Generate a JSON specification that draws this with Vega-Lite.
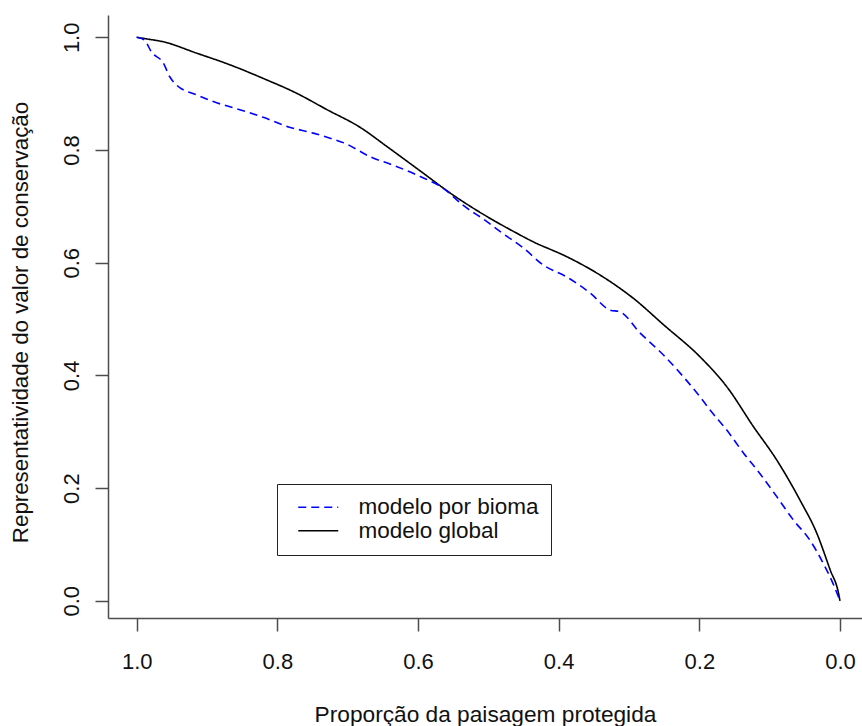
{
  "$schema": "https://vega.github.io/schema/vega-lite/v6.json",
  "autosize": {"type": "none"},
  "padding": {"left": 108, "top": 15, "right": 0, "bottom": 108},
  "width": 754,
  "height": 603,
  "background": "white",
  "config": {
    "font": "Liberation Sans",
    "view": {"stroke": null},
    "axis": {"grid": false, "domainColor": "#4d4d4d", "domainWidth": 1.5, "tickColor": "#4d4d4d", "tickWidth": 1.5, "labelColor": "#111111", "titleColor": "#111111", "titleFontWeight": "normal"}
  },
  "data": {
    "values": [
      {"x": 1.0, "y": 1.0, "modelo": "modelo global"},
      {"x": 0.985, "y": 0.997, "modelo": "modelo global"},
      {"x": 0.962, "y": 0.992, "modelo": "modelo global"},
      {"x": 0.915, "y": 0.972, "modelo": "modelo global"},
      {"x": 0.867, "y": 0.951, "modelo": "modelo global"},
      {"x": 0.820, "y": 0.927, "modelo": "modelo global"},
      {"x": 0.773, "y": 0.901, "modelo": "modelo global"},
      {"x": 0.730, "y": 0.872, "modelo": "modelo global"},
      {"x": 0.682, "y": 0.840, "modelo": "modelo global"},
      {"x": 0.644, "y": 0.806, "modelo": "modelo global"},
      {"x": 0.597, "y": 0.763, "modelo": "modelo global"},
      {"x": 0.550, "y": 0.720, "modelo": "modelo global"},
      {"x": 0.502, "y": 0.682, "modelo": "modelo global"},
      {"x": 0.465, "y": 0.656, "modelo": "modelo global"},
      {"x": 0.436, "y": 0.637, "modelo": "modelo global"},
      {"x": 0.389, "y": 0.611, "modelo": "modelo global"},
      {"x": 0.341, "y": 0.578, "modelo": "modelo global"},
      {"x": 0.294, "y": 0.537, "modelo": "modelo global"},
      {"x": 0.250, "y": 0.489, "modelo": "modelo global"},
      {"x": 0.199, "y": 0.433, "modelo": "modelo global"},
      {"x": 0.161, "y": 0.380, "modelo": "modelo global"},
      {"x": 0.123, "y": 0.309, "modelo": "modelo global"},
      {"x": 0.090, "y": 0.250, "modelo": "modelo global"},
      {"x": 0.057, "y": 0.179, "modelo": "modelo global"},
      {"x": 0.033, "y": 0.120, "modelo": "modelo global"},
      {"x": 0.014, "y": 0.055, "modelo": "modelo global"},
      {"x": 0.002, "y": 0.013, "modelo": "modelo global"},
      {"x": 0.0, "y": 0.0, "modelo": "modelo global"},
      {"x": 1.0, "y": 1.0, "modelo": "modelo por bioma"},
      {"x": 0.989, "y": 0.995, "modelo": "modelo por bioma"},
      {"x": 0.979, "y": 0.974, "modelo": "modelo por bioma"},
      {"x": 0.962, "y": 0.954, "modelo": "modelo por bioma"},
      {"x": 0.953, "y": 0.930, "modelo": "modelo por bioma"},
      {"x": 0.943, "y": 0.915, "modelo": "modelo por bioma"},
      {"x": 0.915, "y": 0.898, "modelo": "modelo por bioma"},
      {"x": 0.891, "y": 0.886, "modelo": "modelo por bioma"},
      {"x": 0.844, "y": 0.868, "modelo": "modelo por bioma"},
      {"x": 0.820, "y": 0.858, "modelo": "modelo por bioma"},
      {"x": 0.784, "y": 0.841, "modelo": "modelo por bioma"},
      {"x": 0.749, "y": 0.830, "modelo": "modelo por bioma"},
      {"x": 0.725, "y": 0.821, "modelo": "modelo por bioma"},
      {"x": 0.704, "y": 0.812, "modelo": "modelo por bioma"},
      {"x": 0.668, "y": 0.788, "modelo": "modelo por bioma"},
      {"x": 0.635, "y": 0.773, "modelo": "modelo por bioma"},
      {"x": 0.597, "y": 0.753, "modelo": "modelo por bioma"},
      {"x": 0.564, "y": 0.732, "modelo": "modelo por bioma"},
      {"x": 0.536, "y": 0.702, "modelo": "modelo por bioma"},
      {"x": 0.502, "y": 0.673, "modelo": "modelo por bioma"},
      {"x": 0.483, "y": 0.655, "modelo": "modelo por bioma"},
      {"x": 0.450, "y": 0.626, "modelo": "modelo por bioma"},
      {"x": 0.422, "y": 0.596, "modelo": "modelo por bioma"},
      {"x": 0.389, "y": 0.575, "modelo": "modelo por bioma"},
      {"x": 0.355, "y": 0.546, "modelo": "modelo por bioma"},
      {"x": 0.327, "y": 0.516, "modelo": "modelo por bioma"},
      {"x": 0.313, "y": 0.513, "modelo": "modelo por bioma"},
      {"x": 0.284, "y": 0.475, "modelo": "modelo por bioma"},
      {"x": 0.250, "y": 0.435, "modelo": "modelo por bioma"},
      {"x": 0.223, "y": 0.398, "modelo": "modelo por bioma"},
      {"x": 0.199, "y": 0.362, "modelo": "modelo por bioma"},
      {"x": 0.185, "y": 0.339, "modelo": "modelo por bioma"},
      {"x": 0.161, "y": 0.303, "modelo": "modelo por bioma"},
      {"x": 0.137, "y": 0.262, "modelo": "modelo por bioma"},
      {"x": 0.114, "y": 0.226, "modelo": "modelo por bioma"},
      {"x": 0.090, "y": 0.185, "modelo": "modelo por bioma"},
      {"x": 0.066, "y": 0.143, "modelo": "modelo por bioma"},
      {"x": 0.043, "y": 0.108, "modelo": "modelo por bioma"},
      {"x": 0.024, "y": 0.067, "modelo": "modelo por bioma"},
      {"x": 0.010, "y": 0.031, "modelo": "modelo por bioma"},
      {"x": 0.0, "y": 0.0, "modelo": "modelo por bioma"}
    ]
  },
  "mark": {"type": "line", "strokeWidth": 1.6, "interpolate": "monotone"},
  "encoding": {
    "x": {
      "field": "x", "type": "quantitative",
      "scale": {"domain": [-0.0313, 1.0408], "reverse": true, "nice": false, "zero": false},
      "axis": {
        "values": [0, 0.2, 0.4, 0.6, 0.8, 1.0], "format": ".1f",
        "labelFontSize": 22, "tickSize": 13, "labelPadding": 37, "labelBaseline": "alphabetic",
        "labelFlush": false, "labelOverlap": false,
        "title": "Proporção da paisagem protegida", "titleFontSize": 22.7,
        "titleX": 377, "titleY": 103, "titleBaseline": "alphabetic", "titleAlign": "center"
      }
    },
    "y": {
      "field": "y", "type": "quantitative",
      "scale": {"domain": [-0.0305, 1.0396], "nice": false, "zero": false},
      "axis": {
        "values": [0, 0.2, 0.4, 0.6, 0.8, 1.0], "format": ".1f",
        "labelFontSize": 22, "tickSize": 13, "labelPadding": 17, "labelAngle": -90,
        "labelAlign": "center", "labelBaseline": "alphabetic", "labelFlush": false, "labelOverlap": false,
        "title": "Representatividade do valor de conservação", "titleFontSize": 22.3,
        "titleAngle": -90, "titleX": -81, "titleY": 307, "titleBaseline": "alphabetic", "titleAlign": "center"
      }
    },
    "color": {
      "field": "modelo", "type": "nominal",
      "scale": {"domain": ["modelo por bioma", "modelo global"], "range": ["#0000ff", "#000000"]},
      "legend": {
        "title": null, "orient": "none", "legendX": 169, "legendY": 469,
        "strokeColor": "#222222", "padding": 12, "labelFontSize": 22.5, "labelLimit": 400,
        "labelColor": "#111111", "symbolType": "M-2,0H2", "symbolSize": 400, "symbolStrokeWidth": 1.6,
        "symbolOffset": 18, "labelOffset": 29, "rowPadding": 0.5
      }
    },
    "strokeDash": {
      "field": "modelo", "type": "nominal",
      "scale": {"domain": ["modelo por bioma", "modelo global"], "range": [[8, 5], [1, 0]]},
      "legend": {
        "title": null, "orient": "none", "legendX": 169, "legendY": 469,
        "strokeColor": "#222222", "padding": 12, "labelFontSize": 22.5, "labelLimit": 400,
        "labelColor": "#111111", "symbolType": "M-2,0H2", "symbolSize": 400, "symbolStrokeWidth": 1.6,
        "symbolOffset": 18, "labelOffset": 29, "rowPadding": 0.5
      }
    }
  }
}
